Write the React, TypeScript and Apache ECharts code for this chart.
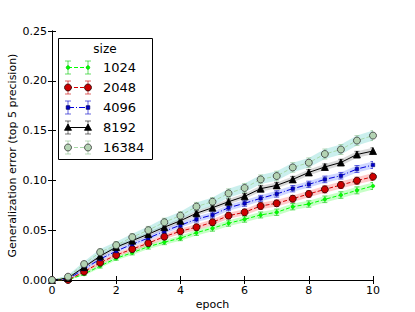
import React, { useEffect, useRef } from "react";
import * as echarts from "echarts";

const epochs = [0, 0.5, 1, 1.5, 2, 2.5, 3, 3.5, 4, 4.5, 5, 5.5, 6, 6.5, 7, 7.5, 8, 8.5, 9, 9.5, 10];
const sizes = ["1024", "2048", "4096", "8192", "16384"];

const mean1024 = [0, 0.0, 0.006, 0.014, 0.0218, 0.0274, 0.0335, 0.038, 0.042, 0.0475, 0.052, 0.057, 0.061, 0.0653, 0.068, 0.0736, 0.0763, 0.081, 0.0853, 0.09, 0.0944];
const mean2048 = [0, 0.0, 0.0084, 0.0174, 0.025, 0.031, 0.037, 0.0435, 0.049, 0.053, 0.058, 0.0646, 0.068, 0.0743, 0.077, 0.0816, 0.0864, 0.091, 0.0954, 0.0997, 0.1037];
const mean4096 = [0, 0.001, 0.011, 0.021, 0.029, 0.036, 0.042, 0.049, 0.055, 0.061, 0.0653, 0.0726, 0.077, 0.082, 0.0864, 0.0917, 0.096, 0.101, 0.1047, 0.1114, 0.1155];
const mean8192 = [0, 0.002, 0.013, 0.024, 0.033, 0.0395, 0.046, 0.053, 0.0595, 0.067, 0.0726, 0.0786, 0.084, 0.0917, 0.095, 0.101, 0.108, 0.1135, 0.118, 0.126, 0.1295];
const mean16384 = [0, 0.0033, 0.016, 0.028, 0.035, 0.043, 0.05, 0.058, 0.0646, 0.0737, 0.0786, 0.087, 0.0924, 0.101, 0.1044, 0.113, 0.1178, 0.1265, 0.131, 0.14, 0.145];

const err1024 = [0, 0.001, 0.0015, 0.002, 0.002, 0.0022, 0.0025, 0.0025, 0.0025, 0.0028, 0.003, 0.003, 0.003, 0.003, 0.0032, 0.0032, 0.0032, 0.0033, 0.0033, 0.0035, 0.0035];
const err2048 = [0, 0.001, 0.0015, 0.002, 0.002, 0.0022, 0.0025, 0.0025, 0.0028, 0.003, 0.003, 0.003, 0.003, 0.0032, 0.0032, 0.0033, 0.0033, 0.0035, 0.0035, 0.0035, 0.0038];
const err4096 = [0, 0.001, 0.0015, 0.002, 0.002, 0.0022, 0.0025, 0.0025, 0.0025, 0.0028, 0.003, 0.003, 0.003, 0.003, 0.0032, 0.0032, 0.0032, 0.0033, 0.0033, 0.0035, 0.0035];
const err8192 = [0, 0.001, 0.0015, 0.0018, 0.002, 0.002, 0.0022, 0.0022, 0.0025, 0.0025, 0.0025, 0.0028, 0.0028, 0.003, 0.003, 0.003, 0.003, 0.003, 0.0032, 0.0032, 0.0032];
const err16384 = [0, 0.0015, 0.0025, 0.003, 0.0035, 0.0035, 0.0038, 0.004, 0.004, 0.0042, 0.0042, 0.0045, 0.0045, 0.0045, 0.0048, 0.0048, 0.0048, 0.005, 0.005, 0.005, 0.005];

const means = [mean1024, mean2048, mean4096, mean8192, mean16384];
const errs = [err1024, err2048, err4096, err8192, err16384];

type Sty = {
  line: string;
  dash: number[] | "solid";
  band: string;
  bar: string;
  marker: string;
  msize: number;
  fill: string;
  edge: string;
};
const styles: Sty[] = [
  { line: "#00ff00", dash: [4, 2], band: "rgba(0,255,0,0.22)", bar: "rgba(0,200,0,0.6)", marker: "circle", msize: 3.5, fill: "#00ff00", edge: "#00cc00" },
  { line: "#d40000", dash: [4, 2], band: "rgba(255,80,80,0.3)", bar: "rgba(200,0,0,0.6)", marker: "circle", msize: 7, fill: "#cc0000", edge: "#220000" },
  { line: "#0000dd", dash: [6, 2, 1, 2], band: "rgba(60,90,255,0.25)", bar: "rgba(0,0,200,0.6)", marker: "rect", msize: 3.5, fill: "#0000cc", edge: "#000066" },
  { line: "#000000", dash: "solid", band: "rgba(0,0,0,0.15)", bar: "rgba(0,0,0,0.55)", marker: "triangle", msize: 7, fill: "#000000", edge: "#000000" },
  { line: "#a8d8a8", dash: [4, 2], band: "rgba(90,205,200,0.32)", bar: "rgba(120,180,120,0.5)", marker: "circle", msize: 7, fill: "#b3d3b3", edge: "#333333" },
];

export default function App() {
  const ref = useRef<HTMLDivElement>(null);
  useEffect(() => {
    const chart = echarts.init(ref.current!, null, { renderer: "svg" });
    const font = "DejaVu Sans";
    const series: any[] = [];
    means.forEach((m, k) => {
      const st = styles[k];
      const e = errs[k];
      series.push({
        type: "custom",
        name: sizes[k] + " band",
        z: 1,
        clip: true,
        data: epochs.map((x, i) => [x, m[i] - e[i], m[i] + e[i]]),
        encode: { x: 0, y: [1, 2] },
        renderItem: (params: any, api: any) => {
          if (params.dataIndex !== 0) return null;
          const upper = epochs.map((x, i) => api.coord([x, m[i] + e[i]]));
          const lower = epochs.map((x, i) => api.coord([x, Math.max(0, m[i] - e[i])])).reverse();
          return {
            type: "polygon",
            shape: { points: upper.concat(lower) },
            style: { fill: st.band },
          };
        },
      });
    });
    means.forEach((m, k) => {
      const st = styles[k];
      const e = errs[k];
      series.push({
        type: "custom",
        name: sizes[k] + " err",
        z: 2,
        clip: true,
        data: epochs.map((x, i) => [x, m[i] - e[i], m[i] + e[i]]),
        encode: { x: 0, y: [1, 2] },
        renderItem: (params: any, api: any) => {
          const x = api.value(0);
          const p1 = api.coord([x, api.value(1)]);
          const p2 = api.coord([x, api.value(2)]);
          const w = 2.5;
          const s = { stroke: st.bar, lineWidth: 1 };
          return {
            type: "group",
            children: [
              { type: "line", shape: { x1: p1[0], y1: p1[1], x2: p2[0], y2: p2[1] }, style: s },
              { type: "line", shape: { x1: p1[0] - w, y1: p1[1], x2: p1[0] + w, y2: p1[1] }, style: s },
              { type: "line", shape: { x1: p2[0] - w, y1: p2[1], x2: p2[0] + w, y2: p2[1] }, style: s },
            ],
          };
        },
      });
    });
    means.forEach((m, k) => {
      const st = styles[k];
      series.push({
        type: "line",
        name: sizes[k],
        z: 3,
        data: epochs.map((x, i) => [x, m[i]]),
        symbol: st.marker,
        symbolSize: st.msize,
        showAllSymbol: true,
        lineStyle: { color: st.line, width: 1, type: st.dash },
        itemStyle: { color: st.fill, borderColor: st.edge, borderWidth: st.msize > 5 ? 0.8 : 0.5, opacity: 1 },
        emphasis: { disabled: true },
      });
    });

    const g: any[] = [];
    g.push({ type: "rect", shape: { x: 58.5, y: 38.5, width: 94, height: 121 }, style: { fill: "#fff", stroke: "#000", lineWidth: 1 }, z: 100 });
    g.push({ type: "text", x: 105, y: 49, style: { text: "size", font: `12px "${font}"`, fill: "#000", align: "center", verticalAlign: "middle" }, z: 101 });
    sizes.forEach((s, k) => {
      const st = styles[k];
      const yy = 67.5 + 20 * k;
      const x1 = 68, x2 = 88;
      g.push({ type: "line", shape: { x1, y1: yy, x2, y2: yy }, style: { stroke: st.line, lineWidth: 1, lineDash: st.dash === "solid" ? null : st.dash }, z: 101 });
      [x1, x2].forEach((xx) => {
        const bs = { stroke: st.bar, lineWidth: 1 };
        g.push({ type: "line", shape: { x1: xx, y1: yy - 6.5, x2: xx, y2: yy + 6.5 }, style: bs, z: 101 });
        g.push({ type: "line", shape: { x1: xx - 3, y1: yy - 6.5, x2: xx + 3, y2: yy - 6.5 }, style: bs, z: 101 });
        g.push({ type: "line", shape: { x1: xx - 3, y1: yy + 6.5, x2: xx + 3, y2: yy + 6.5 }, style: bs, z: 101 });
        const ms = { fill: st.fill, stroke: st.edge, lineWidth: 0.8 };
        const r = st.msize / 2;
        if (st.marker === "circle") g.push({ type: "circle", shape: { cx: xx, cy: yy, r }, style: ms, z: 102 });
        else if (st.marker === "rect") g.push({ type: "rect", shape: { x: xx - r, y: yy - r, width: 2 * r, height: 2 * r }, style: ms, z: 102 });
        else g.push({ type: "polygon", shape: { points: [[xx, yy - r], [xx - r, yy + r * 0.8], [xx + r, yy + r * 0.8]] }, style: ms, z: 102 });
      });
      g.push({ type: "text", x: 103, y: yy, style: { text: s, font: `13px "${font}"`, fill: "#000", align: "left", verticalAlign: "middle" }, z: 101 });
    });

    const axisCommon = {
      axisLine: { show: true, lineStyle: { color: "#000", width: 1 } },
      axisTick: { show: true, inside: true, length: 4, lineStyle: { color: "#000" } },
      splitLine: { show: false },
    };
    const option: any = {
      animation: false,
      backgroundColor: "#fff",
      textStyle: { fontFamily: font },
      grid: { left: 52, top: 31, width: 321, height: 249, containLabel: false, outerBoundsMode: "none" },
      xAxis: [
        {
          type: "value", min: 0, max: 10, interval: 2, position: "bottom", ...axisCommon,
          axisLabel: { color: "#000", fontSize: 11, fontFamily: font, margin: 5 },
          name: "epoch", nameLocation: "middle", nameGap: 19, nameMoveOverlap: false,
          nameTextStyle: { color: "#000", fontSize: 11, fontFamily: font },
        },
        { type: "value", min: 0, max: 10, interval: 2, position: "top", ...axisCommon, axisLabel: { show: false } },
      ],
      yAxis: [
        {
          type: "value", min: 0, max: 0.25, interval: 0.05, position: "left", ...axisCommon,
          axisLabel: { color: "#000", fontSize: 11, fontFamily: font, margin: 5, formatter: (v: number) => v.toFixed(2) },
          name: "Generalization error (top 5 precision)", nameLocation: "middle", nameGap: 34, nameMoveOverlap: false,
          nameTextStyle: { color: "#000", fontSize: 11, fontFamily: font },
        },
        { type: "value", min: 0, max: 0.25, interval: 0.05, position: "right", ...axisCommon, axisLabel: { show: false } },
      ],
      series,
      graphic: g,
    };
    chart.setOption(option);
    return () => chart.dispose();
  }, []);
  return <div ref={ref} style={{ position: "fixed", left: 0, top: 0, width: 415, height: 312, background: "#fff" }} />;
}
